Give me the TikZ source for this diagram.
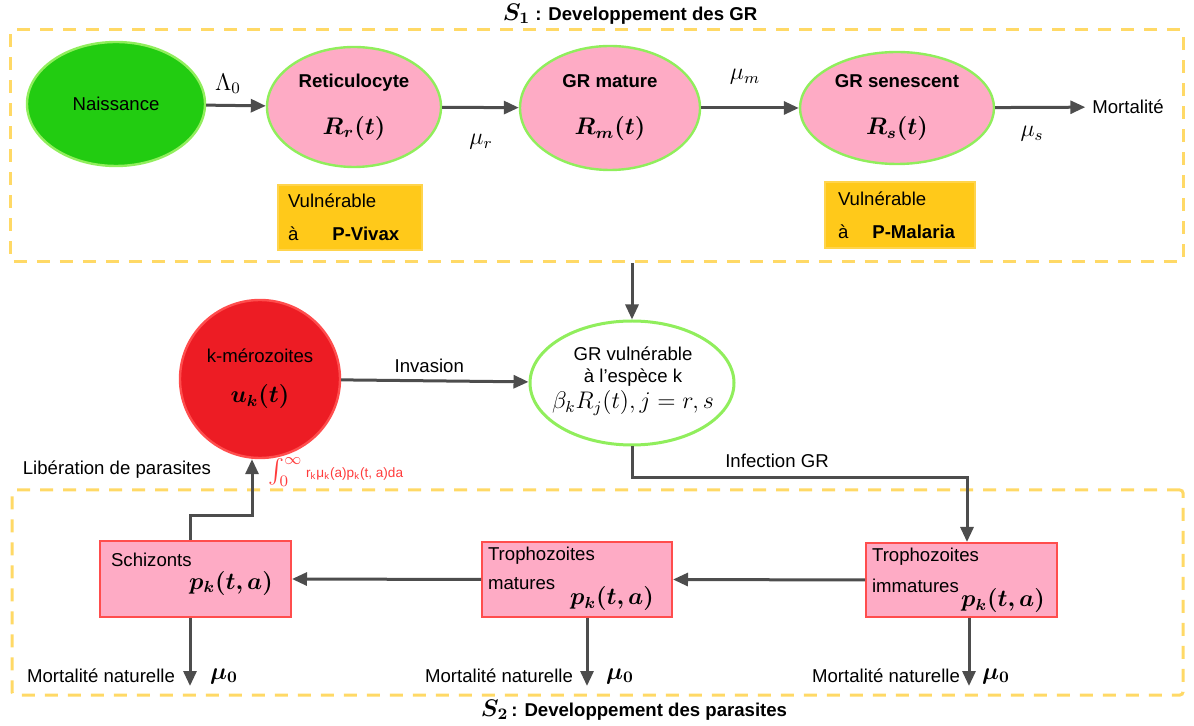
\documentclass[tikz,border=0pt]{standalone}
\usepackage{fontspec}
\setmainfont{Liberation Sans}
\usepackage{amsmath}
\usepackage{bm}
\usetikzlibrary{arrows.meta, positioning, shapes.geometric, calc}
\definecolor{vertnaiss}{HTML}{22CC11}
\definecolor{vertbord}{HTML}{90EE5C}
\definecolor{rosegr}{HTML}{FEABC5}
\definecolor{rougemero}{HTML}{ED1C24}
\definecolor{rougebord}{HTML}{FF4D4D}
\definecolor{orcadre}{HTML}{FFD966}
\definecolor{orvuln}{HTML}{FFC91A}
\definecolor{orvulnbord}{HTML}{FFD44D}
\definecolor{grisfleche}{HTML}{4D4D4D}
\definecolor{rougeint}{HTML}{FF3B3B}
\newcommand{\mathtaille}{\fontsize{12}{14}\selectfont}

\begin{document}
\begin{tikzpicture}[x=0.5pt, y=-0.5pt,
  every node/.style={font=\fontsize{9.3}{11}\selectfont},
  fleche/.style={-{Triangle[length=7.5pt, width=6.5pt]}, line width=1.5pt, draw=grisfleche},
  cellule/.style={ellipse, draw=vertbord, line width=1.2pt, fill=rosegr, inner sep=0pt, align=center},
  cadre/.style={draw=orcadre, line width=1.5pt, dash pattern=on 6.5pt off 5pt, rounded corners=1.5pt},
  vulnbox/.style={rectangle, fill=orvuln, draw=orvulnbord, line width=1pt, align=left},
  stade/.style={rectangle, draw=rougebord, line width=1pt, fill=rosegr},
  mathlbl/.style={font=\mathtaille}]

  \useasboundingbox (0,0) rectangle (1194,726);

  % === CADRES S1 / S2 ===
  \node[cadre, minimum width=586.5pt, minimum height=116pt] (cadreS1) at (596.5,146) {};
  \node[cadre, minimum width=585.5pt, minimum height=102.5pt] (cadreS2) at (597.5,592.5) {};
  \node (titreS1) at (630,14) {{\mathtaille$\bm{S_1}$} \textbf{: Developpement des GR}};
  \node (titreS2) at (634,710) {{\mathtaille$\bm{S_2}$}\,\textbf{: Developpement des parasites}};

  % === S1 : DEVELOPPEMENT DES GR ===
  \node[cellule, fill=vertnaiss, minimum width=89pt, minimum height=62pt] (naiss) at (116,104) {Naissance};
  \node[cellule, minimum width=87pt, minimum height=60pt] (retic) at (354,107)
    {\textbf{Reticulocyte}\\[12.5pt]{\mathtaille$\bm{R_r(t)}$}};
  \node[cellule, minimum width=90pt, minimum height=62pt] (mature) at (610,108)
    {\textbf{GR mature}\\[12.5pt]{\mathtaille$\bm{R_m(t)}$}};
  \node[cellule, minimum width=97pt, minimum height=56pt] (senesc) at (897,108)
    {\textbf{GR senescent}\\[12.5pt]{\mathtaille$\bm{R_s(t)}$}};
  \node (mort) at (1128,107) {Mortalité};

  \draw[fleche] (naiss) -- (retic);
  \draw[fleche] (retic) -- (mature);
  \draw[fleche] (mature) -- (senesc);
  \draw[fleche] (senesc) -- (mort);

  \node[mathlbl] (lambda0) at (228,84) {$\Lambda_0$};
  \node[mathlbl] (mur) at (481,142) {$\mu_r$};
  \node[mathlbl] (mum) at (745,77) {$\mu_m$};
  \node[mathlbl] (mus) at (1032,134) {$\mu_s$};

  % Vulnerabilite
  \node[vulnbox, minimum width=72pt, minimum height=32.5pt, inner xsep=5pt, text width=62pt] (vulnA) at (350,217.5)
    {Vulnérable\\[5.5pt]à\hspace{17pt}\textbf{P-Vivax}};
  \node[vulnbox, minimum width=75pt, minimum height=33pt, inner xsep=6.5pt, text width=62pt] (vulnB) at (900,215)
    {Vulnérable\\[5.5pt]à\hspace{12pt}\textbf{P-Malaria}};

  % === INVASION ===
  \node[cellule, fill=white, line width=1.5pt, minimum width=102pt, minimum height=62pt] (vuln) at (632,383) {};
  \node[align=center, inner sep=0pt] (vulnT) at (633,381)
    {GR vulnérable\\à l{\char"0027}espèce k\\[2pt]{\mathtaille$\beta_kR_j(t), j=r,s$}};
  \node[cellule, fill=rougemero, draw=rougebord, minimum width=80pt, minimum height=79pt] (merozo) at (260,379)
    {k-mérozoites\\[9pt]{\mathtaille$\bm{u_k(t)}$}};

  \draw[fleche] (cadreS1.south -| vuln.north) -- (vuln.north);
  \draw[fleche] (merozo) -- node[above, pos=0.47] (invasion) {Invasion} (vuln);

  % === S2 : DEVELOPPEMENT DES PARASITES ===
  \node[stade, minimum width=95.5pt, minimum height=38pt] (schiz) at (195.5,579) {};
  \node[anchor=west] (schizT) at (104,560) {Schizonts};
  \node[mathlbl] (schizP) at (231,583) {$\bm{p_k(t,a)}$};

  \node[stade, minimum width=95pt, minimum height=37.5pt] (matur) at (577,579.5) {};
  \node[anchor=west] (maturT) at (481,556) {Trophozoites};
  \node[anchor=west] (maturT2) at (481,584) {matures};
  \node[mathlbl] (maturP) at (612,599) {$\bm{p_k(t,a)}$};

  \node[stade, minimum width=95.5pt, minimum height=37pt] (immat) at (961.5,580) {};
  \node[anchor=west] (immatT) at (865,557) {Trophozoites};
  \node[anchor=west] (immatT2) at (865,586) {immatures};
  \node[mathlbl] (immatP) at (1003,601) {$\bm{p_k(t,a)}$};

  \coordinate (coudeA) at (967,478);
  \draw[fleche] (vuln.south) |- (coudeA) -- (immat.north -| coudeA);
  \node (infect) at (777,461) {Infection GR};

  \draw[fleche] (immat.west) -- (matur.east);
  \draw[fleche] (matur.west) -- (schiz.east);

  % Liberation des merozoites
  \coordinate (coudeB) at (190,516);
  \coordinate (coudeC) at (252,516);
  \draw[fleche] (schiz.north -| coudeB) -- (coudeB) -- (coudeC) -- (merozo.south -| coudeC);
  \node (liber) at (117,470) {Libération de parasites};
  \node[anchor=west, text=rougeint, font=\fontsize{6.8}{8}\selectfont, inner sep=0pt] (integ) at (268,472)
    {{\mathtaille$\int_0^\infty$}\ r$_\text{k}$μ$_\text{k}$(a)p$_\text{k}$(t, a)da};

  % Mortalite naturelle
  \coordinate (finA) at (190,686);
  \coordinate (finB) at (587,686);
  \coordinate (finC) at (969,686);
  \draw[fleche] (schiz.south -| finA) -- (finA);
  \draw[fleche] (matur.south -| finB) -- (finB);
  \draw[fleche] (immat.south -| finC) -- (finC);
  \node[anchor=east] (mortA) at (182,676) {Mortalité naturelle};
  \node[anchor=east] (mortB) at (580,676) {Mortalité naturelle};
  \node[anchor=east] (mortC) at (967,676) {Mortalité naturelle};
  \node[mathlbl] (muA) at (224,676) {$\bm{\mu_0}$};
  \node[mathlbl] (muB) at (620,676) {$\bm{\mu_0}$};
  \node[mathlbl] (muC) at (996,676) {$\bm{\mu_0}$};

\end{tikzpicture}
\end{document}
